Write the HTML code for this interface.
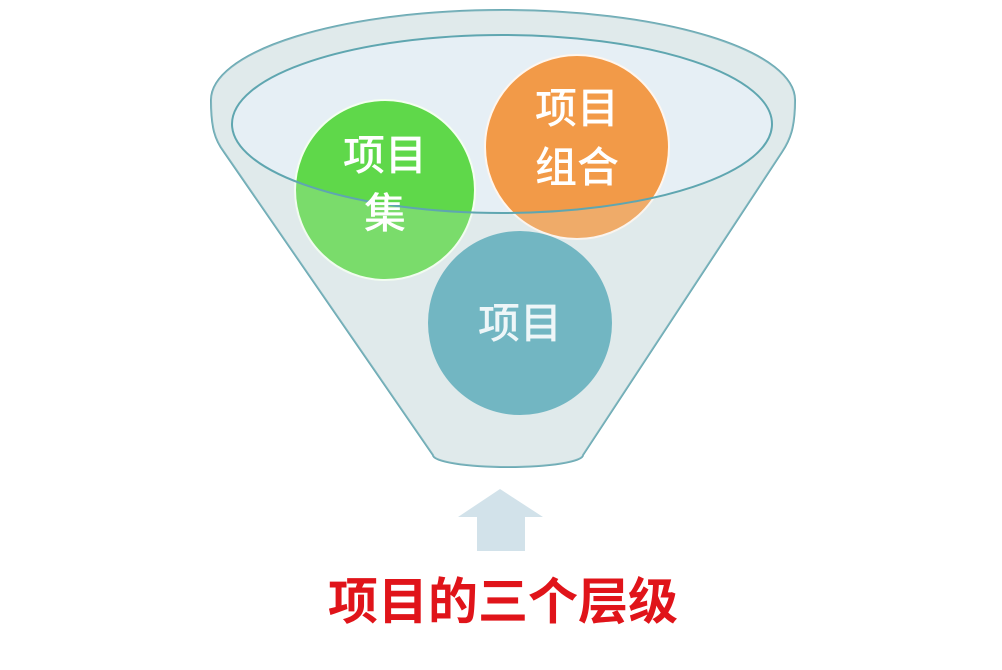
<!DOCTYPE html>
<html><head><meta charset="utf-8"><style>
html,body{margin:0;padding:0;background:#fff;}
svg{display:block;}
text{font-family:"Liberation Sans","Noto Sans CJK SC",sans-serif;}
</style></head><body>
<svg width="1002" height="670" viewBox="0 0 1002 670" xmlns="http://www.w3.org/2000/svg">
<defs>
<mask id="m">
<rect x="0" y="0" width="1002" height="670" fill="#fff"/>
<ellipse cx="502" cy="124" rx="270" ry="89" fill="#000"/>
</mask>
<clipPath id="body"><path d="M211,100 A292,90 0 0 1 795,100 C795,128 790,140 782,152 L583,455 A75,12 0 0 1 433,455 L224,152 C215,140 211,128 211,100 Z"/></clipPath>
</defs>
<path d="M211,100 A292,90 0 0 1 795,100 C795,128 790,140 782,152 L583,455 A75,12 0 0 1 433,455 L224,152 C215,140 211,128 211,100 Z" fill="#dfe9ea" stroke="#6aa9b3" stroke-width="2"/>
<ellipse cx="502" cy="124" rx="270" ry="89" fill="#e6eff5"/>
<circle cx="385" cy="190" r="90" fill="#5fd84a" stroke="#f4fff0" stroke-width="2"/>
<circle cx="577" cy="147" r="92" fill="#f29a48" stroke="#fff6ee" stroke-width="2"/>
<g clip-path="url(#body)">
<rect x="0" y="0" width="1002" height="670" fill="#e4eeee" fill-opacity="0.2" mask="url(#m)"/>
</g>
<circle cx="520" cy="323" r="92" fill="#72b6c2"/>
<ellipse cx="502" cy="124" rx="270" ry="89" fill="none" stroke="#5fa6b0" stroke-width="2"/>
<g fill="#fff" font-size="42" text-anchor="middle" font-weight="500">
<text x="385" y="170">项目</text>
<text x="385" y="228">集</text>
<text x="577" y="123">项目</text>
<text x="577" y="182">组合</text>
<text x="520" y="338" fill="#eef6f8">项目</text>
</g>
<polygon points="500,489 543,517 525,517 525,551 477,551 477,517 458,517" fill="#d2e2ea"/>
<text x="503" y="619" font-size="50" font-weight="bold" fill="#e0141a" text-anchor="middle">项目的三个层级</text>
</svg>
</body></html>
